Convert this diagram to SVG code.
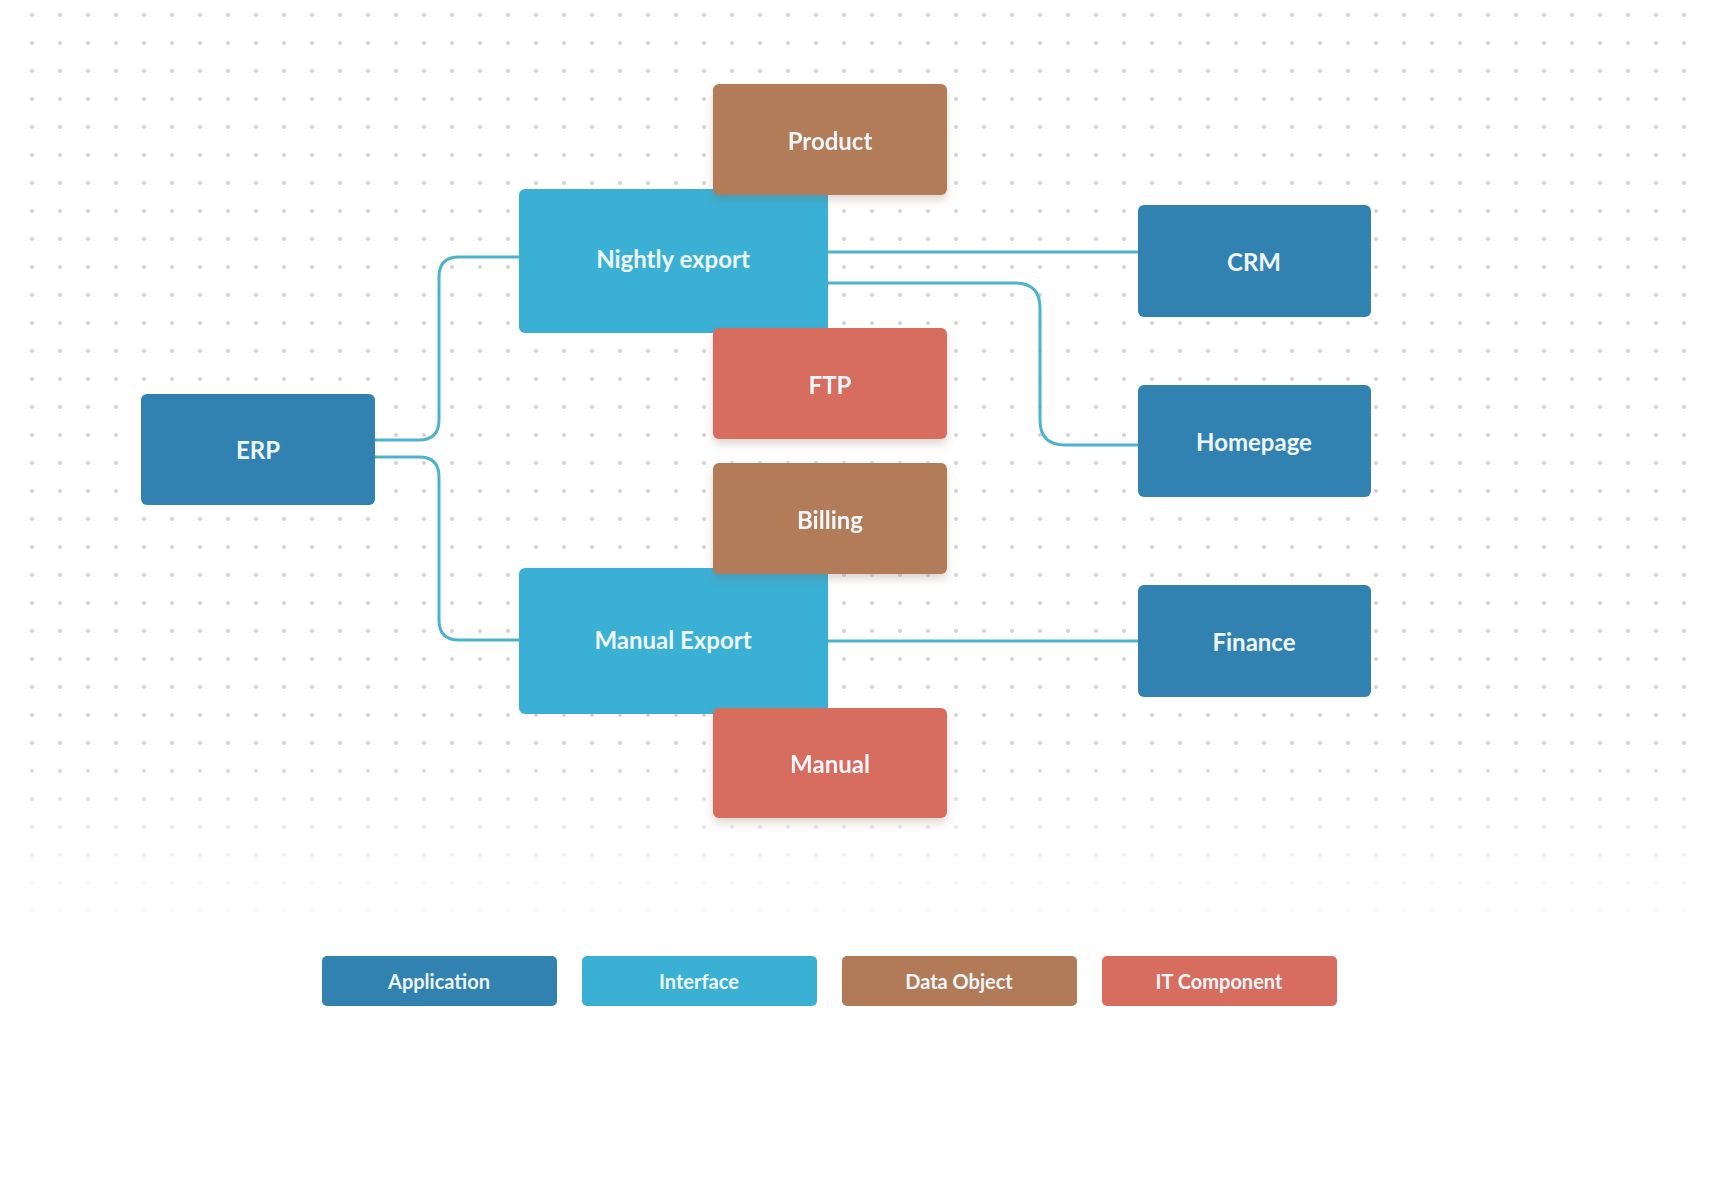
<svg xmlns="http://www.w3.org/2000/svg" width="1720" height="1200" viewBox="0 0 1720 1200">
  <style>
    .app { fill: #3182b0; }
    .itf { fill: #3bb0d5; }
    .dat { fill: #b27b58; }
    .itc { fill: #d76d5f; }
    .lbl { font-family: "Lato", "Noto Sans", "Liberation Sans", sans-serif; font-size: 24px; font-weight: 700; fill: #eef6fa; text-anchor: middle; dominant-baseline: central; }
    .leg { font-family: "Lato", "Noto Sans", "Liberation Sans", sans-serif; font-size: 20px; font-weight: 700; fill: #eef6fa; text-anchor: middle; dominant-baseline: central; }
    .conn { fill: none; stroke: #4db3cc; stroke-width: 3; }
  </style>
  <defs>
    <pattern id="dots" x="18" y="1" width="28" height="28" patternUnits="userSpaceOnUse">
      <circle cx="14" cy="14" r="2" fill="#d2d2d6"/>
    </pattern>
    <linearGradient id="fade" x1="0" y1="0" x2="0" y2="1">
      <stop offset="0" stop-color="#fff"/>
      <stop offset="0.8" stop-color="#fff"/>
      <stop offset="1" stop-color="#fff" stop-opacity="0"/>
    </linearGradient>
    <mask id="fadeMask" maskUnits="userSpaceOnUse" x="0" y="0" width="1720" height="930">
      <rect x="0" y="0" width="1720" height="930" fill="url(#fade)"/>
    </mask>
    <filter id="shadow" x="-10%" y="-10%" width="120%" height="140%">
      <feDropShadow dx="0" dy="5" stdDeviation="4" flood-color="#7a5a50" flood-opacity="0.25"/>
    </filter>
  </defs>

  <rect width="1720" height="1200" fill="#ffffff"/>
  <rect x="18" y="0" width="1690" height="930" fill="url(#dots)" mask="url(#fadeMask)"/>

  <g id="connectors">
    <path class="conn" d="M375,440 H419 Q439,440 439,420 V277 Q439,257 459,257 H519"/>
    <path class="conn" d="M375,457 H419 Q439,457 439,477 V620 Q439,640 459,640 H519"/>
    <path class="conn" d="M828,252 H1138"/>
    <path class="conn" d="M828,283 H1015 Q1040,283 1040,308 V420 Q1040,445 1065,445 H1138"/>
    <path class="conn" d="M828,641 H1138"/>
  </g>

  <g id="node-erp">
    <rect class="app" x="141" y="394" width="234" height="111" rx="6"/>
    <text class="lbl" x="258" y="449">ERP</text>
  </g>
  <g id="node-nightly-export">
    <rect class="itf" x="519" y="189" width="309" height="144" rx="6"/>
    <text class="lbl" x="673" y="258">Nightly export</text>
  </g>
  <g id="node-manual-export">
    <rect class="itf" x="519" y="568" width="309" height="146" rx="6"/>
    <text class="lbl" x="673" y="639">Manual Export</text>
  </g>
  <g id="node-product" filter="url(#shadow)">
    <rect class="dat" x="713" y="84" width="234" height="111" rx="6"/>
    <text class="lbl" x="830" y="140">Product</text>
  </g>
  <g id="node-ftp" filter="url(#shadow)">
    <rect class="itc" x="713" y="328" width="234" height="111" rx="6"/>
    <text class="lbl" x="830" y="384">FTP</text>
  </g>
  <g id="node-billing" filter="url(#shadow)">
    <rect class="dat" x="713" y="463" width="234" height="111" rx="6"/>
    <text class="lbl" x="830" y="519">Billing</text>
  </g>
  <g id="node-manual" filter="url(#shadow)">
    <rect class="itc" x="713" y="708" width="234" height="110" rx="6"/>
    <text class="lbl" x="830" y="763">Manual</text>
  </g>
  <g id="node-crm">
    <rect class="app" x="1138" y="205" width="233" height="112" rx="6"/>
    <text class="lbl" x="1254" y="261">CRM</text>
  </g>
  <g id="node-homepage">
    <rect class="app" x="1138" y="385" width="233" height="112" rx="6"/>
    <text class="lbl" x="1254" y="441">Homepage</text>
  </g>
  <g id="node-finance">
    <rect class="app" x="1138" y="585" width="233" height="112" rx="6"/>
    <text class="lbl" x="1254" y="641">Finance</text>
  </g>

  <g id="legend">
    <g id="legend-application">
      <rect class="app" x="322" y="956" width="235" height="50" rx="5"/>
      <text class="leg" x="439" y="981">Application</text>
    </g>
    <g id="legend-interface">
      <rect class="itf" x="582" y="956" width="235" height="50" rx="5"/>
      <text class="leg" x="699" y="981">Interface</text>
    </g>
    <g id="legend-data-object">
      <rect class="dat" x="842" y="956" width="235" height="50" rx="5"/>
      <text class="leg" x="959" y="981">Data Object</text>
    </g>
    <g id="legend-it-component">
      <rect class="itc" x="1102" y="956" width="235" height="50" rx="5"/>
      <text class="leg" x="1219" y="981">IT Component</text>
    </g>
  </g>
</svg>
